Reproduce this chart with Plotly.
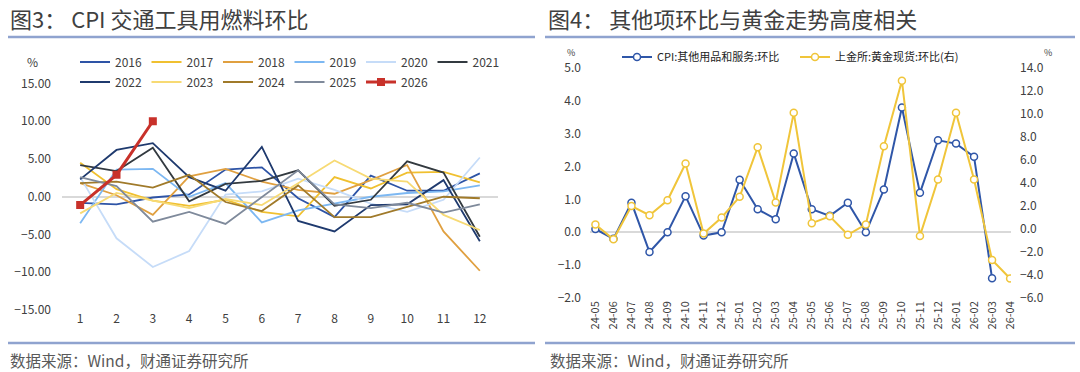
import plotly.graph_objects as go

W, H = 1080, 372

# ---------- left chart data ----------
months = [str(m) for m in range(1, 13)]
years = ["2016", "2017", "2018", "2019", "2020", "2021",
         "2022", "2023", "2024", "2025", "2026"]
v2016 = [-0.8, -1.0, -0.1, 0.3, 3.6, 3.9, -0.2, -2.7, 2.8, 0.8, 0.8, 3.1]
v2017 = [4.5, 1.0, -0.5, -1.2, -0.4, -2.0, -2.6, 2.6, 1.1, 3.2, 3.3, 1.9]
v2018 = [1.8, 0.2, -2.4, 2.7, 3.7, 2.0, 0.9, 0.4, 2.2, 4.2, -4.6, -9.8]
v2019 = [-3.5, 3.6, 3.7, 0.0, 1.8, -3.4, -1.8, -0.9, 0.0, 0.5, 0.7, 1.5]
v2020 = [2.6, -5.5, -9.3, -7.2, 0.3, 0.7, 2.4, 0.9, -0.9, -2.0, -0.4, 5.2]
v2021 = [4.2, 3.4, 6.5, -0.6, 1.7, 2.1, 3.5, -1.2, -0.4, 4.7, 3.2, -5.3]
v2022 = [2.3, 6.2, 7.1, 2.6, 0.8, 6.6, -3.2, -4.6, -1.1, -1.0, 2.2, -5.9]
v2023 = [-2.2, 0.5, -0.5, -1.5, -0.3, -1.1, 1.8, 4.8, 2.4, 2.0, -2.4, -4.4]
v2024 = [1.8, 2.0, 1.2, 2.9, -0.7, -1.9, 1.5, -2.7, -2.7, -1.3, 0.0, -0.2]
v2025 = [2.6, 1.4, -3.3, -2.0, -3.6, 0.0, 3.5, -1.0, -1.5, -0.8, -2.1, -1.0]
v2026 = [-1.1, 2.9, 10.0]
left_series = [v2016, v2017, v2018, v2019, v2020, v2021,
               v2022, v2023, v2024, v2025, v2026]
left_colors = ["#2E54A6", "#F0C030", "#E0A040", "#7DB8F2", "#C6DCF8", "#333A40",
               "#1F3A6E", "#F7DA74", "#A07A2A", "#7F8A9B", "#C8312A"]
left_yticks = [15, 10, 5, 0, -5, -10, -15]

# ---------- right chart data ----------
periods = ["24-05", "24-06", "24-07", "24-08", "24-09", "24-10", "24-11", "24-12",
           "25-01", "25-02", "25-03", "25-04", "25-05", "25-06", "25-07", "25-08",
           "25-09", "25-10", "25-11", "25-12", "26-01", "26-02", "26-03", "26-04"]
cpi_other = [0.1, -0.2, 0.9, -0.6, 0.0, 1.1, -0.1, 0.0,
             1.6, 0.7, 0.4, 2.4, 0.7, 0.5, 0.9, 0.0,
             1.3, 3.8, 1.2, 2.8, 2.7, 2.3, -1.4, None]
gold_spot = [0.4, -0.9, 2.0, 1.2, 2.5, 5.7, -0.4, 1.0,
             2.8, 7.1, 2.3, 10.1, 0.5, 1.1, -0.5, 0.4,
             7.2, 12.9, -0.6, 4.3, 10.1, 4.3, -2.7, -4.3]
name_cpi = "CPI:其他用品和服务:环比"
name_gold = "上金所:黄金现货:环比(右)"


def px_x(x):
    return x / W


def px_y(y):
    return 1 - y / H


font_cjk = "Noto Sans CJK SC"
fig = go.Figure()
legend_layout = {}

for i, (yr, vals, col) in enumerate(zip(years, left_series, left_colors)):
    is_last = yr == "2026"
    lid = "legend" if i == 0 else f"legend{i + 1}"
    row, colpos = divmod(i, 6)
    legend_layout[lid] = dict(
        x=px_x(75 + colpos * 71.5), y=px_y(62 + row * 20),
        xanchor="left", yanchor="middle", orientation="h",
        itemwidth=30, bgcolor="rgba(0,0,0,0)", borderwidth=0,
        font=dict(family=font_cjk, size=12, color="#404040"))
    fig.add_trace(go.Scatter(
        x=months[:len(vals)], y=vals, name=yr,
        mode="lines+markers" if is_last else "lines",
        line=dict(color=col, width=3 if is_last else 1.8),
        marker=dict(symbol="square", size=8, color=col) if is_last else None,
        xaxis="x", yaxis="y", legend=lid,
    ))

for j, (nm, vals, col, ya, lx) in enumerate([
        (name_cpi, cpi_other, "#2F56A8", "y2", 617),
        (name_gold, gold_spot, "#F0C53A", "y3", 795)]):
    lid = f"legend{12 + j}"
    legend_layout[lid] = dict(
        x=px_x(lx), y=px_y(57), xanchor="left", yanchor="middle",
        orientation="h", itemwidth=30, bgcolor="rgba(0,0,0,0)", borderwidth=0,
        font=dict(family=font_cjk, size=11, color="#222222"))
    fig.add_trace(go.Scatter(
        x=periods, y=vals, name=nm, mode="lines+markers",
        line=dict(color=col, width=2),
        marker=dict(symbol="circle", size=7, color="white",
                    line=dict(color=col, width=1.5)),
        xaxis="x2", yaxis=ya, legend=lid,
    ))

tickfont = dict(family=font_cjk, size=12, color="#404040")

fig.update_layout(
    width=W, height=H,
    margin=dict(l=0, r=0, t=0, b=0, autoexpand=False),
    paper_bgcolor="white", plot_bgcolor="white",
    font=dict(family=font_cjk, color="#404040"),
    showlegend=True,
    xaxis=dict(domain=[px_x(62), px_x(498)], type="category",
               range=[-0.5, 11.5], showgrid=False, showline=False,
               ticks="", tickfont=tickfont, anchor="y", automargin=False),
    yaxis=dict(domain=[px_y(310), px_y(83.5)], range=[-15, 15],
               tickvals=left_yticks, tickformat=".2f",
               showgrid=False, zeroline=True, zerolinecolor="#D9D9D9",
               zerolinewidth=2, showline=False, ticks="",
               tickfont=tickfont, anchor="x", ticklabelstandoff=10,
               automargin=False),
    xaxis2=dict(domain=[px_x(590), px_x(1011)], type="category",
                range=[-0.3, 23.05], showgrid=False, showline=False,
                ticks="", tickangle=-90,
                tickfont=dict(family=font_cjk, size=11, color="#404040"),
                anchor="y2", automargin=False),
    yaxis2=dict(domain=[px_y(298), px_y(68)], range=[-2, 5], dtick=1,
                tickformat=".1f", showgrid=False, zeroline=True,
                zerolinecolor="#D9D9D9", zerolinewidth=1.5, showline=False,
                ticks="", tickfont=tickfont, anchor="x2", ticklabelstandoff=8,
                automargin=False),
    yaxis3=dict(range=[-6, 14], dtick=2, tickformat=".1f", overlaying="y2",
                side="right", anchor="x2", showgrid=False, zeroline=False,
                showline=False, ticks="", tickfont=tickfont,
                ticklabelstandoff=8, automargin=False),
    **legend_layout,
)

shapes = []
for x0, x1 in [(8, 535), (545, 1075)]:
    for yy in [37, 343]:
        shapes.append(dict(type="line", xref="paper", yref="paper",
                           x0=px_x(x0), x1=px_x(x1), y0=px_y(yy), y1=px_y(yy),
                           line=dict(color="#8FA3CF", width=2.5)))
fig.update_layout(shapes=shapes)

annos = [
    dict(text="图3： CPI 交通工具用燃料环比", x=px_x(8), y=px_y(18),
         font=dict(size=22, color="#404040", family=font_cjk)),
    dict(text="图4： 其他项环比与黄金走势高度相关", x=px_x(546), y=px_y(18),
         font=dict(size=22, color="#404040", family=font_cjk)),
    dict(text="数据来源：Wind，财通证券研究所", x=px_x(8), y=px_y(360),
         font=dict(size=15.5, color="#595959", family=font_cjk)),
    dict(text="数据来源：Wind，财通证券研究所", x=px_x(548), y=px_y(360),
         font=dict(size=15.5, color="#595959", family=font_cjk)),
    dict(text="%", x=px_x(25), y=px_y(62),
         font=dict(size=12, color="#404040", family=font_cjk)),
    dict(text="%", x=px_x(565), y=px_y(53),
         font=dict(size=9, color="#404040", family=font_cjk)),
    dict(text="%", x=px_x(1042), y=px_y(53),
         font=dict(size=9, color="#404040", family=font_cjk)),
]
for a in annos:
    a.update(xref="paper", yref="paper", xanchor="left", yanchor="middle",
             showarrow=False)
fig.update_layout(annotations=annos)

fig.write_html(
    "out.html",
    config={"displayModeBar": False},
    post_script="document.body.style.margin='0';"
                "document.body.style.overflow='hidden';",
)
